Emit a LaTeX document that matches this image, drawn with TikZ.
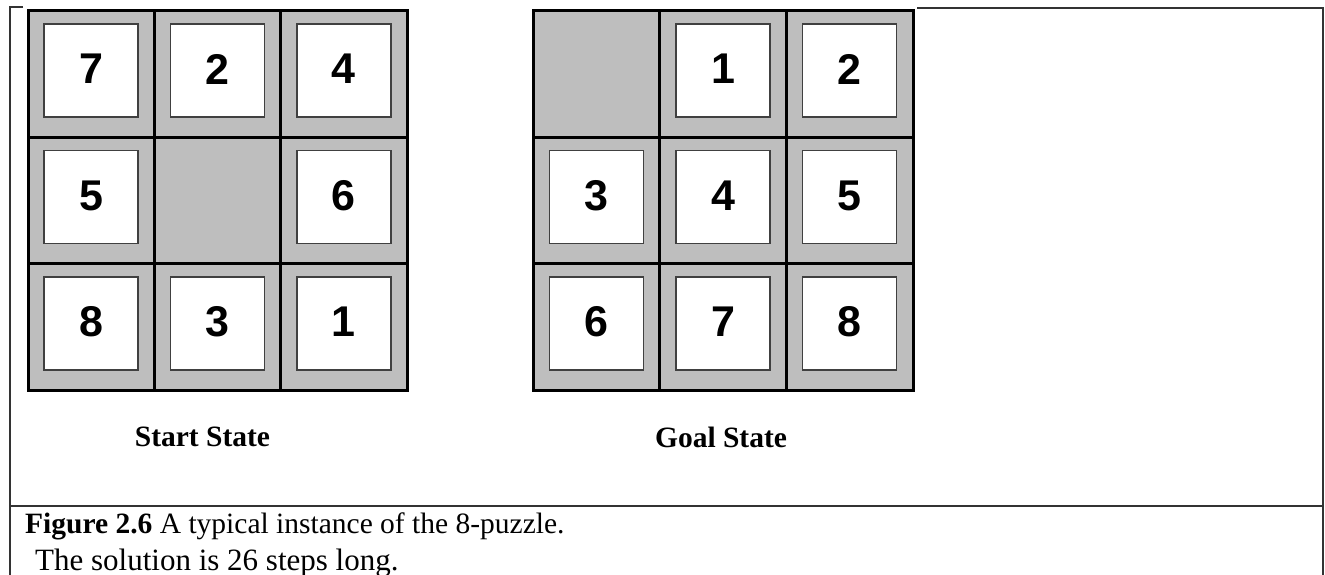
\documentclass[tikz,border=0pt]{standalone}
\usepackage{fontspec}
\setmainfont{Liberation Serif}
\newfontfamily\digitfont{Liberation Sans}
\definecolor{tilegray}{HTML}{BEBEBE}
\definecolor{framegray}{HTML}{333333}
\begin{document}
\begin{tikzpicture}[x=1pt,y=-1pt,
  board/.style={fill=tilegray, draw=black, line width=3pt},
  gridline/.style={draw=black, line width=3pt},
  tile/.style={draw=black!75, line width=1.5pt, fill=white, minimum width=94pt, minimum height=93pt, inner sep=0pt,
    font=\digitfont\bfseries\fontsize{43}{43}\selectfont},
  statelabel/.style={font=\bfseries\fontsize{29.5}{30}\selectfont, inner sep=0pt},
  frame/.style={draw=framegray, line width=1.5pt},
  captext/.style={anchor=base west, inner sep=0pt, font=\fontsize{29.5}{30}\selectfont}]
\useasboundingbox (0,0) rectangle (1325,575);
\fill[white] (0,0) rectangle (1325,575);

% outer frame
\coordinate (tl) at (10,7);
\coordinate (tlend) at (23,7);
\coordinate (bl) at (10,575);
\coordinate (trs) at (917,8);
\coordinate (tr) at (1323,8);
\coordinate (br) at (1323,575);
\coordinate (sepl) at (10,505.5);
\coordinate (sepr) at (1323,505.5);
\draw[frame] (tlend) -- (tl) -- (bl);
\draw[frame] (trs) -- (tr) -- (br);
\draw[frame, line width=2pt] (sepl) -- (sepr);

% start board
\filldraw[board] (28,11) rectangle (407,390);
\draw[gridline] (154.3,11) -- (154.3,390) (280.7,11) -- (280.7,390)
                (28,137.3) -- (407,137.3) (28,263.7) -- (407,263.7);
\foreach \c/\r/\t in {0/0/7,1/0/2,2/0/4,0/1/5,2/1/6,0/2/8,1/2/3,2/2/1}
  \node[tile] (s\c\r) at ({28+126.33*(\c+0.5)}, {7.5+126.33*(\r+0.5)}) {\raisebox{3pt}{\t}};

% goal board
\filldraw[board] (533,11) rectangle (913,390);
\draw[gridline] (659.7,11) -- (659.7,390) (786.3,11) -- (786.3,390)
                (533,137.3) -- (913,137.3) (533,263.7) -- (913,263.7);
\foreach \c/\r/\t in {1/0/1,2/0/2,0/1/3,1/1/4,2/1/5,0/2/6,1/2/7,2/2/8}
  \node[tile] (g\c\r) at ({533+126.67*(\c+0.5)}, {7.5+126.33*(\r+0.5)}) {\raisebox{3pt}{\t}};

% labels
\node[statelabel] (startlbl) at (202.5,437) {Start State};
\node[statelabel] (goallbl) at (721,437) {Goal State};

% caption
\node[captext] (cap1) at (25,533) {\textbf{Figure 2.6} A typical instance of the 8-puzzle.};
\node[captext, font=\fontsize{31}{31}\selectfont] (cap2) at (35,570) {The solution is 26 steps long.};
\end{tikzpicture}
\end{document}
